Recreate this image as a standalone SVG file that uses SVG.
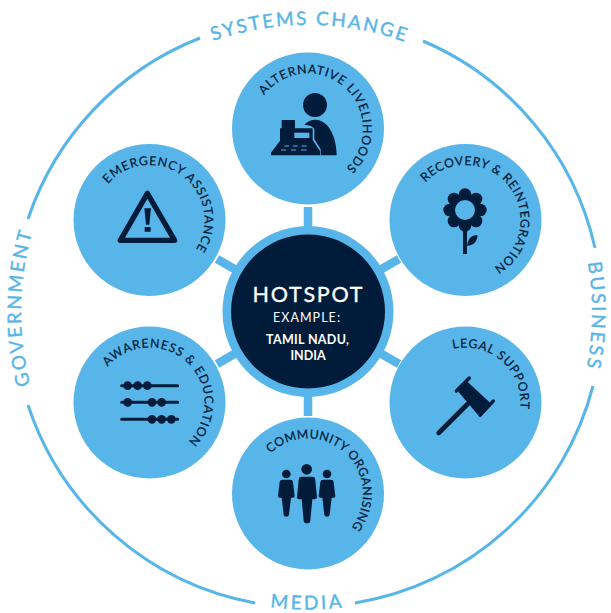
<svg xmlns="http://www.w3.org/2000/svg" xmlns:xlink="http://www.w3.org/1999/xlink" width="611" height="613" viewBox="0 0 611 613">
<style>
text{font-family:"Lato","Noto Sans","Liberation Sans",sans-serif}
.sat{fill:#58b5e9}
.ink{fill:#011c3a}
.lab{font-size:12.3px;font-weight:400;fill:#011c3a;stroke:#011c3a;stroke-width:.25}
.out{font-size:19px;font-weight:400;fill:#58b5e9;stroke:#58b5e9;stroke-width:.4}
.ring{fill:none;stroke:#58b5e9;stroke-width:3}
.spoke{stroke:#58b5e9;stroke-width:8.5;fill:none}
.ctr{fill:#fff;text-anchor:middle}
</style>
<defs>
<path id="p55" d="M0,-55A55,55 0 1 1 0,55A55,55 0 1 1 0,-55"/>
<path id="p287" d="M0,-287A287,287 0 1 1 0,287A287,287 0 1 1 0,-287"/>
<path id="p284" d="M0,-284A284,284 0 1 1 0,284A284,284 0 1 1 0,-284"/>
<path id="p297" d="M0,297.5A297.5,297.5 0 1 0 0,-297.5A297.5,297.5 0 1 0 0,297.5"/>
<path id="person" d="M172,209H196Q203,209 204,216L209,258Q209,263 204,263H198L192,314Q191,320 184,320Q177,320 176,314L170,263H164Q159,263 159,258L164,216Q165,209 172,209Z"/>
</defs>
<g id="connectors">
<path class="spoke" d="M308,311.5V207M308,311.5V416M308,311.5L217,259M308,311.5L399,259M308,311.5L217,364M308,311.5L399,364"/>
</g>
<g id="outer-ring">
<path class="ring" d="M423,41A295,295 0 0 1 595,248"/>
<path class="ring" d="M593,386A295,295 0 0 1 355,603"/>
<path class="ring" d="M255,603A295,295 0 0 1 28,405"/>
<path class="ring" d="M28,219A295,295 0 0 1 200,38"/>
<g transform="translate(308,312) rotate(-19.3)"><text class="out"><textPath href="#p287" textLength="195" lengthAdjust="spacing">SYSTEMS CHANGE</textPath></text></g>
<g transform="translate(308,312) rotate(80)"><text class="out"><textPath href="#p284" textLength="105" lengthAdjust="spacing">BUSINESS</textPath></text></g>
<g transform="translate(308,312) rotate(7.3)"><text class="out"><textPath href="#p297" textLength="72" lengthAdjust="spacing">MEDIA</textPath></text></g>
<g transform="translate(308,312) rotate(-104.7)"><text class="out"><textPath href="#p287" textLength="154" lengthAdjust="spacing">GOVERNMENT</textPath></text></g>
</g>
<g id="hotspot">
<circle class="sat" cx="308" cy="311.5" r="85.5"/>
<circle class="ink" cx="308" cy="311.5" r="77"/>
<text class="ctr" x="307.5" y="301.7" font-size="21.5" stroke="#fff" stroke-width=".35" textLength="110" lengthAdjust="spacing">HOTSPOT</text>
<text class="ctr" x="306.5" y="321.7" font-size="12.5" font-weight="400" textLength="67" lengthAdjust="spacing">EXAMPLE:</text>
<text class="ctr" x="307.5" y="343.7" font-size="12.5" font-weight="700" textLength="83" lengthAdjust="spacing">TAMIL NADU,</text>
<text class="ctr" x="308" y="360" font-size="12.5" font-weight="700">INDIA</text>
</g>
<g id="alternative-livelihoods">
<circle class="sat" cx="308" cy="128.5" r="76"/>
<g transform="translate(308,128.5) rotate(-52.7)"><text class="lab"><textPath href="#p55" textLength="181" lengthAdjust="spacing">ALTERNATIVE LIVELIHOODS</textPath></text></g>
<g transform="translate(225,50) scale(.33333)">
<circle class="ink" cx="270" cy="165" r="36"/>
<path class="ink" d="M238,224C250,212 262,208 278,210C310,214 335,260 335,316H287V298L268,268V236Q260,226 238,224Z"/>
<path class="ink" d="M170,210H210V235H263V270L285,303V316H138V308L165,272V235H170Z"/>
<rect class="sat" x="208" y="248" width="45" height="16"/>
<path d="M178,288H192M203,288H218M230,288H245M168,300H183M198,300H213M228,300H245" stroke="#58b5e9" stroke-width="3" fill="none"/>
</g>
</g>
<g id="emergency-assistance">
<circle class="sat" cx="149.5" cy="220" r="76"/>
<g transform="translate(149.5,220) rotate(-49)"><text class="lab"><textPath href="#p55" textLength="164" lengthAdjust="spacing">EMERGENCY ASSISTANCE</textPath></text></g>
<g transform="translate(70,130) scale(.33333)">
<path d="M232,190L151,331H314Z" fill="none" stroke="#011c3a" stroke-width="16" stroke-linejoin="round"/>
<path class="ink" d="M223,235H243L238,284H228ZM224,291H242V305H224Z"/>
</g>
</g>
<g id="recovery-reintegration">
<circle class="sat" cx="465.5" cy="220" r="76"/>
<g transform="translate(465.5,220) rotate(-47)"><text class="lab"><textPath href="#p55" textLength="188" lengthAdjust="spacing">RECOVERY &amp; REINTEGRATION</textPath></text></g>
<g transform="translate(385,130) scale(.33333)">
<g class="ink">
<circle cx="240" cy="194" r="19"/><circle cx="273" cy="207" r="19"/><circle cx="286" cy="240" r="19"/><circle cx="273" cy="273" r="19"/><circle cx="240" cy="286" r="19"/><circle cx="207" cy="273" r="19"/><circle cx="194" cy="240" r="19"/><circle cx="207" cy="207" r="19"/>
<circle cx="240" cy="240" r="44"/>
<rect x="234" y="290" width="12" height="82"/>
<path d="M246,347C250,322 262,315 278,316C276,335 265,348 246,347Z"/>
</g>
<circle class="sat" cx="240" cy="240" r="30"/>
</g>
</g>
<g id="awareness-education">
<circle class="sat" cx="149.5" cy="402.5" r="76"/>
<g transform="translate(149.5,402.5) rotate(-49.5)"><text class="lab"><textPath href="#p55" textLength="177" lengthAdjust="spacing">AWARENESS &amp; EDUCATION</textPath></text></g>
<g transform="translate(70,320) scale(.33333)">
<path d="M155,197H323M155,247H323M155,298H323" stroke="#011c3a" stroke-width="9" stroke-linecap="round" fill="none"/>
<g class="ink">
<circle cx="173" cy="197" r="13"/><circle cx="203" cy="197" r="13"/><circle cx="232" cy="197" r="13"/>
<circle cx="173" cy="247" r="13"/><circle cx="246" cy="247" r="13"/><circle cx="275" cy="247" r="13"/>
<circle cx="246" cy="298" r="13"/><circle cx="275" cy="298" r="13"/><circle cx="304" cy="298" r="13"/>
</g>
</g>
</g>
<g id="legal-support">
<circle class="sat" cx="465.5" cy="402.5" r="76"/>
<g transform="translate(465.5,402.5) rotate(-13)"><text class="lab"><textPath href="#p55" textLength="105" lengthAdjust="spacing">LEGAL SUPPORT</textPath></text></g>
<g transform="translate(385,320) scale(.33333)">
<path class="ink" d="M244,182L317,250L279,285L220,215Z"/>
<path d="M253,174L214,213M325,243L285,286" stroke="#011c3a" stroke-width="10" stroke-linecap="round" fill="none"/>
<path d="M248,252L161,339" stroke="#011c3a" stroke-width="14" stroke-linecap="round" fill="none"/>
</g>
</g>
<g id="community-organising">
<circle class="sat" cx="308" cy="493.5" r="76"/>
<g transform="translate(308,493.5) rotate(-43)"><text class="lab"><textPath href="#p55" textLength="164" lengthAdjust="spacing">COMMUNITY ORGANISING</textPath></text></g>
<g transform="translate(225,410) scale(.33333)">
<g class="ink">
<circle cx="245" cy="178" r="16"/><circle cx="184" cy="192" r="13"/><circle cx="306" cy="192" r="13"/>
<path d="M230,200H262Q270,200 271,210L276,262Q276,268 268,268H262L256,332Q255,340 246,340Q237,340 236,332L230,268H222Q215,268 216,262L221,210Q222,200 230,200Z"/>
<use href="#person"/>
<use href="#person" x="122"/>
</g>
</g>
</g>
</svg>
